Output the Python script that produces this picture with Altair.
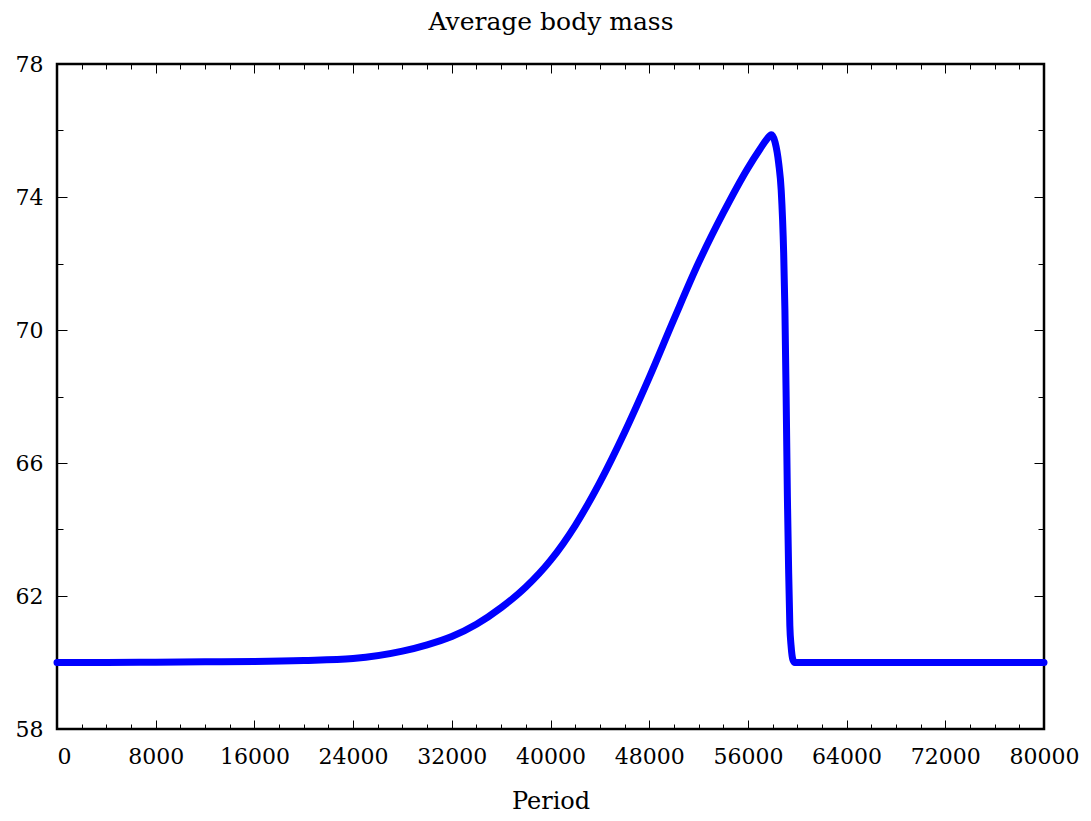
import altair as alt
import pandas as pd

# Data
period = [0, 4000, 8000, 12000, 16000, 20000, 24000, 28000, 30000, 32000,
          34000, 36000, 38000, 40000, 42000, 44000, 46000, 48000, 50000, 52000,
          54000, 56000, 57000, 57500, 57900, 58200, 58500, 58700, 58900, 59000,
          59100, 59200, 59300, 59400, 59500, 59650, 59800, 60000, 64000, 72000, 80000]
mass = [60.0, 60.0, 60.01, 60.02, 60.03, 60.06, 60.12, 60.34, 60.53, 60.78,
        61.15, 61.65, 62.27, 63.07, 64.12, 65.42, 66.92, 68.57, 70.32, 72.02,
        73.52, 74.87, 75.45, 75.72, 75.87, 75.65, 75.0, 74.2, 72.3, 70.6,
        68.0, 65.0, 62.8, 61.1, 60.5, 60.08, 60.0, 60.0, 60.0, 60.0, 60.0]

x_major = [0, 8000, 16000, 24000, 32000, 40000, 48000, 56000, 64000, 72000, 80000]
x_minor = [v for v in range(0, 80001, 2000) if v % 8000 != 0]
y_major = [58, 62, 66, 70, 74, 78]
y_minor = [60, 64, 68, 72, 76]

title_text = "Average body mass"
x_title = "Period"

df = pd.DataFrame({"Period": period, "Mass": mass})

FONT = "DejaVu Serif"
xs = alt.Scale(domain=[0, 80000], nice=False, zero=False)
ys = alt.Scale(domain=[58, 78], nice=False, zero=False)


def tick_axis(orient, values, size, title=None, **kw):
    return alt.Axis(orient=orient, values=values, tickSize=size, offset=-size,
                    labels=False, domain=False, grid=False, title=title,
                    ticks=True, tickColor="black", tickWidth=1, **kw)


line = alt.Chart(df).mark_line(
    color="#0000ff", strokeWidth=7, strokeCap="round", strokeJoin="round",
    interpolate="monotone"
).encode(
    x=alt.X("Period:Q", scale=xs, axis=alt.Axis(
        orient="bottom", values=x_major, format="d", ticks=False, domain=False,
        grid=False, labelPadding=34, labelBaseline="alphabetic",
        labelAlign={"expr": "datum.value == 0 ? 'left' : 'center'"},
        title=x_title, titleY=79, titleBaseline="alphabetic")),
    y=alt.Y("Mass:Q", scale=ys, axis=alt.Axis(
        orient="left", values=y_major, format="d", ticks=False, domain=False,
        grid=False, labelPadding=14, labelBaseline="middle", title=None)),
)


def ghost(xaxis, yaxis):
    return alt.Chart(df).mark_line(strokeOpacity=0).encode(
        x=alt.X("Period:Q", scale=xs, axis=xaxis),
        y=alt.Y("Mass:Q", scale=ys, axis=yaxis),
    )


layers = [
    line,
    ghost(tick_axis("bottom", x_major, 9), tick_axis("left", y_major, 10)),
    ghost(tick_axis("bottom", x_minor, 5), tick_axis("left", y_minor, 6)),
    ghost(tick_axis("top", x_major, 9, title=title_text, titleY=-44,
                    titleBaseline="alphabetic", titleFontSize=25),
          tick_axis("right", y_major, 10)),
    ghost(tick_axis("top", x_minor, 5), tick_axis("right", y_minor, 6)),
]

chart = alt.layer(*layers).resolve_axis(
    x="independent", y="independent"
).properties(
    width=987, height=665,
    autosize=alt.AutoSizeParams(type="none"),
    padding={"left": 49, "top": 56, "right": 39, "bottom": 84},
).configure_view(
    stroke="black", strokeWidth=2.5
).configure_axis(
    labelFont=FONT, labelFontSize=22, labelColor="black",
    titleFont=FONT, titleFontSize=24, titleFontWeight="normal", titleColor="black"
)

chart.save("out.html", embed_options={"renderer": "svg", "actions": False})
